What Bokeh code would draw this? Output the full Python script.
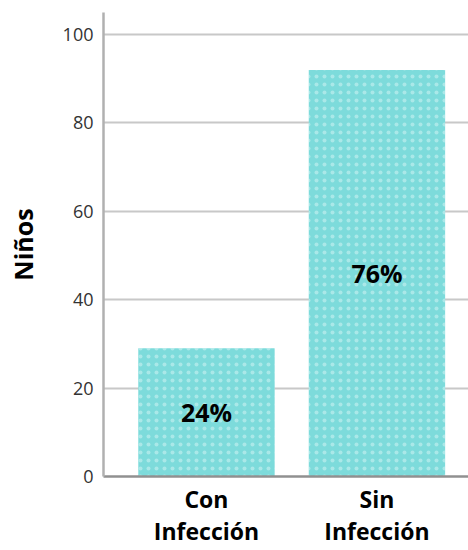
from bokeh.plotting import figure
from bokeh.models import Range1d, FixedTicker, ColumnDataSource, LinearAxis
from bokeh.core.properties import value
from bokeh.embed import file_html
from bokeh.resources import INLINE

categories = ["Con Infección", "Sin Infección"]
counts = [29, 92]
y_ticks = [0, 20, 40, 60, 80, 100]
y_label = "Niños"

total = sum(counts)
xs = list(range(len(categories)))
line1 = [c.split(" ", 1)[0] for c in categories]
line2 = [c.split(" ", 1)[1] for c in categories]
pct = [f"{round(c / total * 100)}%" for c in counts]
src = ColumnDataSource(dict(x=xs, top=counts, mid=[c / 2 for c in counts], pct=pct))

p = figure(width=468, height=550, output_backend="svg", toolbar_location=None,
           x_range=Range1d(-0.604, 1.537), y_range=Range1d(0, 105),
           min_border_left=103, min_border_right=0, min_border_top=12, min_border_bottom=74)
p.outline_line_color = None
p.background_fill_color = "white"
p.border_fill_color = "white"

p.vbar(x="x", top="top", width=0.8, source=src, fill_color="#7DDBDB", line_color=None,
       hatch_pattern="dot", hatch_color="white", hatch_alpha=0.35, hatch_scale=8, hatch_weight=1.5)

p.text(x="x", y="mid", text="pct", source=src, text_align="center", text_baseline="middle",
       text_font=value("Open Sans"), text_font_style="bold", text_font_size="25px", text_color="black")

p.xgrid.grid_line_color = None
p.ygrid.grid_line_color = "#C8C8C8"
p.ygrid.grid_line_width = 2
p.ygrid.ticker = FixedTicker(ticks=y_ticks)

ya = p.yaxis[0]
ya.ticker = FixedTicker(ticks=y_ticks)
ya.axis_line_color = "#B0B0B0"
ya.axis_line_width = 2.5
ya.major_tick_line_color = None
ya.minor_tick_line_color = None
ya.major_tick_out = 0
ya.major_tick_in = 0
ya.major_label_text_font = "Open Sans"
ya.major_label_text_font_size = "18px"
ya.major_label_text_color = "#333333"
ya.major_label_standoff = 10
ya.axis_label = y_label
ya.axis_label_text_font = "Open Sans"
ya.axis_label_text_font_style = "bold"
ya.axis_label_text_font_size = "25px"
ya.axis_label_text_color = "black"
ya.axis_label_standoff = 20


def style_x(ax, labels, standoff, line_color):
    ax.ticker = FixedTicker(ticks=xs)
    ax.major_label_overrides = {i: t for i, t in zip(xs, labels)}
    ax.axis_line_color = line_color
    ax.axis_line_width = 2.5
    ax.major_tick_line_color = None
    ax.minor_tick_line_color = None
    ax.major_tick_out = 0
    ax.major_tick_in = 0
    ax.major_label_text_font = "Open Sans"
    ax.major_label_text_font_style = "bold"
    ax.major_label_text_font_size = "23px"
    ax.major_label_text_color = "black"
    ax.major_label_standoff = standoff


style_x(p.xaxis[0], line1, 6, "#909090")
x2 = LinearAxis()
style_x(x2, line2, -3, None)
p.add_layout(x2, "below")

open("out.html", "w").write(file_html(p, INLINE))
